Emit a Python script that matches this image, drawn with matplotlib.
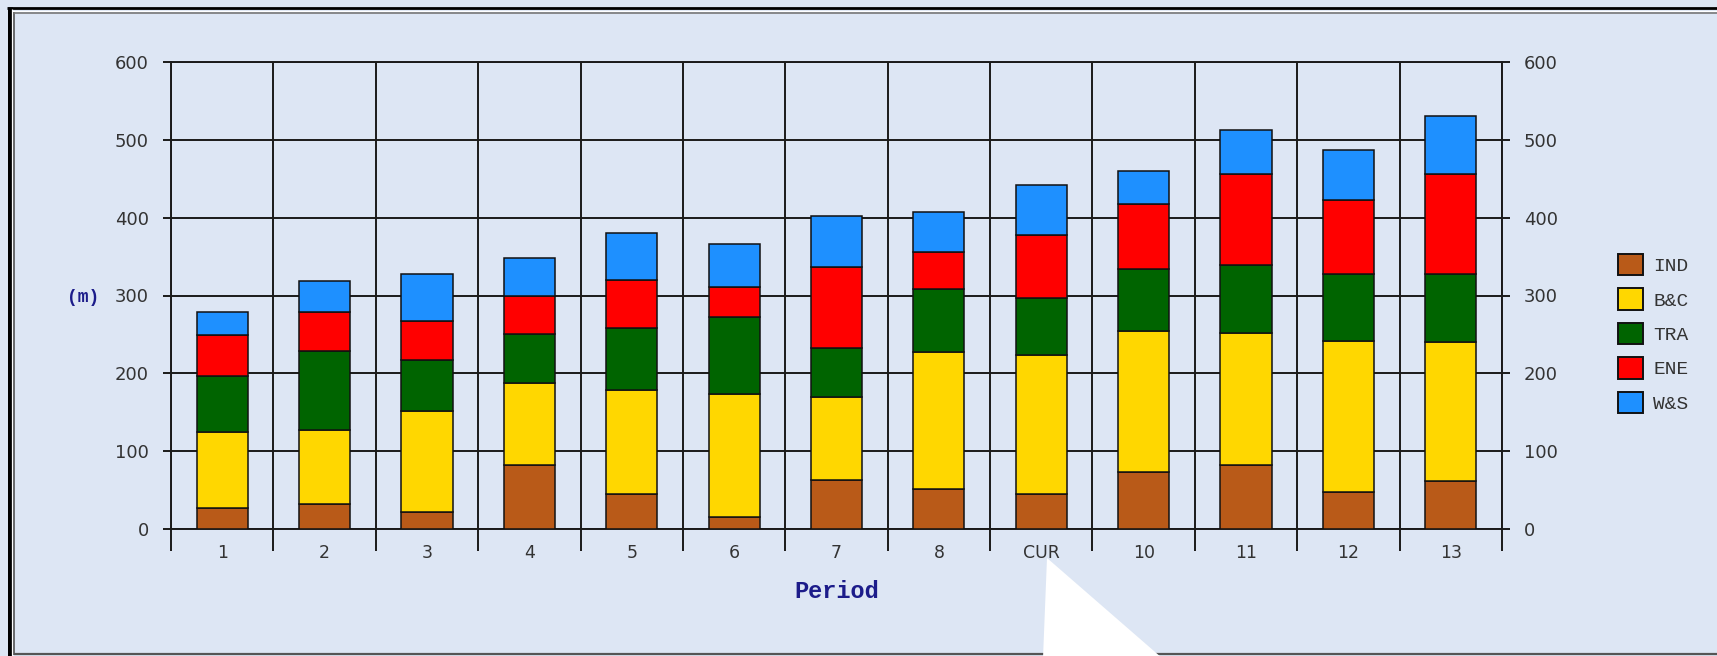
import numpy as np
import matplotlib
matplotlib.use("Agg")
import matplotlib.pyplot as plt
from matplotlib.lines import Line2D
from matplotlib.patches import Polygon

# ---- data ----
periods = ['1', '2', '3', '4', '5', '6', '7', '8', 'CUR', '10', '11', '12', '13']
ind = [27, 32, 22, 82, 45, 15, 63, 52, 45, 73, 82, 48, 62]
bnc = [98, 95, 130, 105, 133, 158, 106, 176, 178, 181, 170, 194, 178]
tra = [72, 102, 65, 64, 80, 99, 64, 80, 74, 80, 87, 85, 87]
ene = [52, 50, 50, 48, 62, 39, 103, 48, 81, 83, 117, 96, 129]
wns = [30, 39, 60, 49, 60, 55, 66, 51, 64, 43, 57, 64, 75]
series_names = ['IND', 'B&C', 'TRA', 'ENE', 'W&S']
series_vals = [ind, bnc, tra, ene, wns]
series_colors = ['#B95A18', '#FFD700', '#006400', '#FF0000', '#1E90FF']
yticks = [0, 100, 200, 300, 400, 500, 600]

W, H = 1717, 656
BG = '#DDE6F4'
LINE = '#1a1a1a'
NAVY = '#1c1c8a'
TXT = '#333333'
MONO = ['Liberation Mono', 'DejaVu Sans Mono']

fig = plt.figure(figsize=(W / 100, H / 100), dpi=100, facecolor=BG)

def fx(px):
    return px / W

def fy(py):
    return 1 - py / H

L, R, T, B = 171, 1502, 62, 529
ax = fig.add_axes([fx(L), fy(B), fx(R) - fx(L), fy(T) - fy(B)])
ax.set_facecolor(BG)
ax.set_axisbelow(True)

x = np.arange(len(periods))
bottom = np.zeros(len(periods))
handles = []
for name, vals, col in zip(series_names, series_vals, series_colors):
    b = ax.bar(x, vals, width=0.5, bottom=bottom, color=col, edgecolor='#111111',
               linewidth=1.1, label=name, zorder=3)
    handles.append(b)
    bottom = bottom + np.array(vals)

ax.set_xlim(-0.5, len(periods) - 0.5)
ax.set_ylim(0, 600)
ax.set_yticks(yticks)
ax.set_yticklabels([str(v) for v in yticks])
ax.set_xticks(x)
ax.set_xticklabels(periods)
ax.set_xticks(np.arange(-0.5, len(periods), 1.0), minor=True)

ax.grid(True, axis='y', which='major', color=LINE, linewidth=1.4)
ax.grid(True, axis='x', which='minor', color=LINE, linewidth=1.4)
ax.grid(False, axis='x', which='major')

for s in ax.spines.values():
    s.set_color(LINE)
    s.set_linewidth(1.4)

ax.tick_params(axis='y', which='major', direction='out', length=5.8, width=1.4,
               color=LINE, left=True, right=True, labelleft=True, labelright=True,
               labelsize=13, labelcolor=TXT, pad=10)
ax.tick_params(axis='x', which='major', length=0, labelsize=12.5, labelcolor=TXT, pad=11)
ax.tick_params(axis='x', which='minor', direction='out', length=15.8, width=1.4, color=LINE)
for lab in ax.get_yticklabels() + ax.get_xticklabels():
    lab.set_family('DejaVu Sans')

# axis titles
ax.text(0.5, (B - 592) / (B - T), 'Period', transform=ax.transAxes, ha='center',
        va='center', fontsize=17, color=NAVY, family=MONO, fontweight='bold')
fig.text(fx(83), fy(297), '(m)', ha='center', va='center', fontsize=13,
         color=NAVY, family=MONO, fontweight='bold')

# legend
leg = fig.legend(handles=handles, labels=series_names, loc='center left',
                 bbox_to_anchor=(fx(1618), fy(333.5)), frameon=False,
                 prop={'family': MONO, 'size': 14}, handlelength=1.3,
                 handleheight=1.3, labelspacing=0.68, handletextpad=0.5,
                 borderpad=0, borderaxespad=0)
for t in leg.get_texts():
    t.set_color(TXT)
for p in leg.get_patches():
    p.set_linewidth(1.4)
    p.set_edgecolor('#111111')

# window frame
def hline(y, x0, x1, lw, c):
    fig.add_artist(Line2D([fx(x0), fx(x1)], [fy(y), fy(y)], color=c, linewidth=lw,
                          transform=fig.transFigure, solid_capstyle='butt'))

def vline(xp, y0, y1, lw, c):
    fig.add_artist(Line2D([fx(xp), fx(xp)], [fy(y0), fy(y1)], color=c, linewidth=lw,
                          transform=fig.transFigure, solid_capstyle='butt'))

vline(9.5, 7, H, 3.6, '#000000')
hline(8, 7, W, 2.0, '#000000')
vline(11.9, 9, H, 0.9, '#FFFFFF')
hline(10.6, 12, W, 0.9, '#FFFFFF')
vline(14, 12, 655, 1.2, '#555555')
hline(12.5, 14, W, 1.2, '#777777')
hline(654, 14, W, 1.6, '#555555')

# callout pointer
tri = Polygon([[fx(1047), fy(558)], [fx(1043), fy(H + 2)], [fx(1162), fy(H + 2)]],
              closed=True, facecolor='white', edgecolor='none',
              transform=fig.transFigure, zorder=10)
fig.add_artist(tri)

fig.savefig('out.png', dpi=100, facecolor=BG)
